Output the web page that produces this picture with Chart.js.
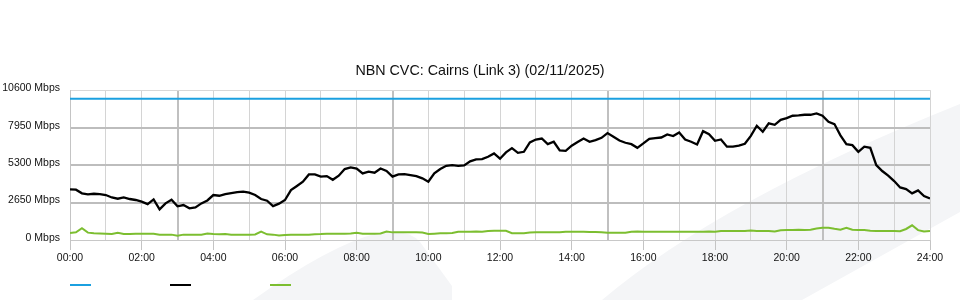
<!DOCTYPE html>
<html>
<head>
<meta charset="utf-8">
<script src="https://cdn.jsdelivr.net/npm/chart.js@4/dist/chart.umd.min.js"></script>
<style>
    html, body { margin: 0; padding: 0; background: #fff; }
    #wrap { width: 960px; height: 300px; position: relative; }
</style>
</head>
<body>
<div id="wrap"><canvas id="cvc-chart" width="960" height="300"></canvas></div>
<script>
// =================================================================
// Data (Mbps, one sample every 10 minutes from 00:00 to 24:00)
// =================================================================
const SAMPLE_MINUTES = 10;
const xTickHours = [0, 2, 4, 6, 8, 10, 12, 14, 16, 18, 20, 22, 24];
const yTicksMbps = [0, 2650, 5300, 7950, 10600];

const capacityHours = [0, 24];
const capacityMbps = [10000, 10000];

const trafficMbps = [
    3580, 3560, 3300, 3230, 3270, 3250, 3180, 3010, 2920, 3010,
    2900, 2830, 2710, 2540, 2870, 2170, 2590, 2850, 2380, 2470,
    2240, 2310, 2590, 2800, 3180, 3130, 3250, 3320, 3390, 3420,
    3345, 3180, 2900, 2780, 2400, 2570, 2830, 3530, 3820, 4120,
    4640, 4640, 4480, 4520, 4260, 4550, 5020, 5140, 5050, 4710,
    4830, 4760, 5060, 4880, 4480, 4640, 4660, 4590, 4520, 4360,
    4120, 4710, 5020, 5250, 5300, 5250, 5280, 5560, 5700, 5720,
    5890, 6120, 5750, 6200, 6500, 6170, 6240, 6900, 7110, 7180,
    6780, 6950, 6340, 6310, 6670, 6930, 7180, 6950, 7070, 7230,
    7560, 7300, 7040, 6880, 6780, 6520, 6830, 7160, 7210, 7250,
    7470, 7350, 7610, 7110, 6950, 6760, 7700, 7490, 7020, 7110,
    6600, 6600, 6670, 6810, 7370, 8080, 7660, 8250, 8150, 8500,
    8620, 8790, 8810, 8860, 8860, 8950, 8790, 8360, 8200, 7400,
    6780, 6710, 6240, 6600, 6520, 5300, 4880, 4550, 4170, 3720,
    3600, 3300, 3510, 3110, 2940
];

const upstreamMbps = [
    500, 540, 830, 520, 470, 460, 440, 420, 510, 430,
    420, 440, 450, 450, 440, 380, 370, 380, 310, 380,
    370, 380, 380, 460, 430, 410, 420, 380, 380, 370,
    380, 390, 600, 400, 380, 320, 360, 370, 370, 370,
    380, 410, 420, 450, 440, 450, 450, 460, 520, 450,
    450, 440, 460, 600, 540, 540, 550, 540, 540, 530,
    430, 450, 470, 470, 500, 580, 590, 590, 600, 590,
    630, 660, 660, 650, 480, 470, 470, 530, 540, 540,
    540, 540, 550, 580, 590, 590, 580, 570, 560, 550,
    520, 520, 510, 510, 580, 600, 580, 590, 590, 580,
    590, 590, 590, 580, 590, 590, 590, 600, 590, 640,
    640, 640, 640, 630, 680, 640, 640, 640, 600, 690,
    700, 710, 720, 710, 730, 820, 860, 870, 790, 720,
    860, 720, 700, 700, 650, 640, 630, 640, 640, 620,
    780, 1040, 700, 600, 640
];

const COLOR_CAPACITY = 'rgb(27, 160, 224)';
const COLOR_TRAFFIC = 'rgb(0, 0, 0)';
const COLOR_UPSTREAM = 'rgb(124, 190, 48)';
const FONT = '"Liberation Sans", Arial, sans-serif';

function toPoints(values) {
    return values.map((v, i) => ({ x: i * SAMPLE_MINUTES / 60, y: v }));
}

function hourLabel(h) {
    return String(h).padStart(2, '0') + ':00';
}

// background swoosh watermark
const watermarkPlugin = {
    id: 'watermark',
    beforeDraw(chart) {
        const c = chart.ctx;
        c.save();
        c.fillStyle = '#f4f5f7';
        c.beginPath();
        c.moveTo(253, 300);
        c.quadraticCurveTo(330, 245, 378, 233);
        c.quadraticCurveTo(408, 228, 420, 242);
        c.lineTo(452, 286);
        c.lineTo(452, 300);
        c.closePath();
        c.fill();
        c.beginPath();
        c.moveTo(602, 300);
        c.quadraticCurveTo(720, 200, 960, 104);
        c.lineTo(960, 212);
        c.lineTo(802, 300);
        c.closePath();
        c.fill();
        c.restore();
    }
};

// legend: only coloured strokes, no text
const strokeLegendPlugin = {
    id: 'strokeLegend',
    afterDraw(chart) {
        const c = chart.ctx;
        c.save();
        c.lineWidth = 2;
        chart.data.datasets.forEach((ds, i) => {
            const x = 70 + i * 100;
            c.strokeStyle = ds.borderColor;
            c.beginPath();
            c.moveTo(x, 285);
            c.lineTo(x + 21, 285);
            c.stroke();
        });
        c.restore();
    }
};

const ctx = document.getElementById('cvc-chart').getContext('2d');
new Chart(ctx, {
    type: 'line',
    data: {
        datasets: [{
            label: 'Capacity',
            data: capacityHours.map((h, i) => ({ x: h, y: capacityMbps[i] })),
            borderColor: COLOR_CAPACITY,
            borderWidth: 2
        }, {
            label: 'Traffic',
            data: toPoints(trafficMbps),
            borderColor: COLOR_TRAFFIC,
            borderWidth: 2.3
        }, {
            label: 'Upstream',
            data: toPoints(upstreamMbps),
            borderColor: COLOR_UPSTREAM,
            borderWidth: 2
        }]
    },
    options: {
        responsive: false,
        animation: false,
        events: [],
        elements: { point: { radius: 0 }, line: { tension: 0 } },
        layout: { padding: 0 },
        plugins: {
            legend: { display: false },
            tooltip: { enabled: false },
            title: {
                display: true,
                text: 'NBN CVC: Cairns (Link 3) (02/11/2025)',
                color: '#111',
                font: { family: FONT, size: 14.3, weight: 'normal', lineHeight: 1.2 },
                padding: { top: 62, bottom: 11 }
            }
        },
        scales: {
            x: {
                type: 'linear',
                min: 0,
                max: 24,
                afterFit: (scale) => { scale.height = 60; },
                afterBuildTicks: (scale) => {
                    scale.ticks = Array.from({ length: 25 }, (_, h) => ({ value: h }));
                },
                ticks: {
                    autoSkip: false,
                    maxRotation: 0,
                    padding: 2,
                    color: '#111',
                    font: { family: FONT, size: 10.5 },
                    callback: (v) => xTickHours.includes(v) ? hourLabel(v) : ''
                },
                grid: {
                    tickLength: 10,
                    color: (c) => {
                        const v = c.tick ? c.tick.value : 0;
                        return (v % 6 === 3) ? '#c0c0c0' : '#d4d4d4';
                    },
                    lineWidth: (c) => {
                        const v = c.tick ? c.tick.value : 0;
                        return (v % 6 === 3) ? 2 : 1;
                    },
                    tickColor: (c) => (c.tick && c.tick.value % 2 === 0) ? '#c4c4c4' : 'rgba(0,0,0,0)'
                },
                border: { display: true, color: '#c8c8c8', width: 1 }
            },
            y: {
                min: 0,
                max: 10600,
                afterFit: (scale) => { scale.width = 70; },
                afterBuildTicks: (scale) => {
                    scale.ticks = yTicksMbps.map(v => ({ value: v }));
                },
                ticks: {
                    padding: 10,
                    labelOffset: -2,
                    color: '#111',
                    font: { family: FONT, size: 10.5 },
                    callback: (v) => v + ' Mbps'
                },
                grid: {
                    drawTicks: false,
                    color: (c) => {
                        const v = c.tick ? c.tick.value : 0;
                        return (v === 0 || v === 10600) ? '#d8d8d8' : '#bdbdbd';
                    },
                    lineWidth: (c) => {
                        const v = c.tick ? c.tick.value : 0;
                        return (v === 0 || v === 10600) ? 1 : 2;
                    }
                },
                border: { display: true, color: '#c4c4c4', width: 1 }
            },
            // empty right-hand gutter so the title centres on the full width
            gutter: {
                type: 'linear',
                position: 'right',
                display: true,
                afterFit: (scale) => { scale.width = 30; },
                ticks: { display: false },
                grid: { display: false, drawTicks: false },
                border: { display: false }
            }
        }
    },
    plugins: [watermarkPlugin, strokeLegendPlugin]
});
</script>
</body>
</html>
